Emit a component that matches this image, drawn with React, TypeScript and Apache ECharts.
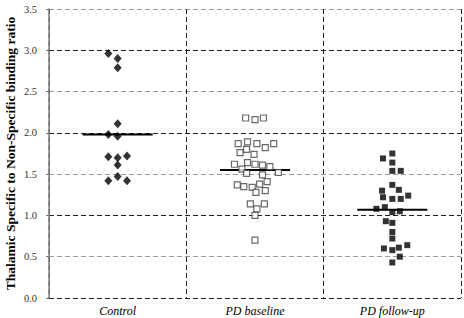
import React, { useEffect, useRef } from "react";
import * as echarts from "echarts";

const categories = ["Control", "PD baseline", "PD follow-up"];
const yTicks = [0, 0.5, 1.0, 1.5, 2.0, 2.5, 3.0, 3.5];

const controlValues = [2.96, 2.9, 2.79, 2.11, 1.98, 1.96, 1.71, 1.7, 1.72, 1.61, 1.47, 1.42, 1.42];
const controlSlots = [-1, 0, 0, 0, -1, 0, -1, 0, 1, 0, 0, -1, 1];

const baselineValues = [
  2.18, 2.16, 2.18, 1.87, 1.89, 1.87, 1.82, 1.87, 1.76, 1.8, 1.74, 1.62, 1.64, 1.62, 1.61, 1.59,
  1.56, 1.51, 1.52, 1.49, 1.37, 1.35, 1.34, 1.38, 1.41, 1.28, 1.3, 1.14, 1.08, 1.14, 1.0, 0.7,
];
const baselineSlots = [
  -1.0, 0, 0.9, -1.8, -0.8, 0.2, 1.1, 2.0, -1.6, -0.9, -0.1, -2.2, -0.8, 0, 0.8, 1.6,
  -1.4, -0.9, 2.5, 0.8, -1.9, -1.2, -0.3, 0.5, 1.3, 0.1, 1.1, -0.5, 0.2, 1.0, 0, 0,
];

const followupValues = [
  1.69, 1.75, 1.64, 1.54, 1.54, 1.37, 1.3, 1.31, 1.22, 1.2, 1.2, 1.24, 1.08, 1.1, 1.04, 1.05,
  0.93, 0.91, 0.8, 0.72, 0.6, 0.58, 0.61, 0.64, 0.5, 0.43,
];
const followupSlots = [
  -1.0, 0, 0, 0, 0.9, 0, -1.1, 0.7, -1.0, 0, 0.9, 1.7, -1.7, -0.8, 0, 0.8,
  -0.7, 0, 0, 0, -0.9, 0, 0.7, 1.6, 0.8, 0,
];

const groupMeans = [1.98, 1.55, 1.07];

const SLOT = 0.068;
const MEAN_HALF = 0.255;

function points(catIndex: number, values: number[], slots: number[]) {
  return values.map((v, i) => [catIndex + 0.5 + slots[i] * SLOT, v]);
}

export default function App() {
  const ref = useRef<HTMLDivElement>(null);
  useEffect(() => {
    document.body.style.margin = "0";
    const chart = echarts.init(ref.current!, null, { renderer: "svg" });
    const serif = "Liberation Serif, Times New Roman, serif";
    const meanSeries = groupMeans.map((m, i) => ({
      type: "line",
      xAxisIndex: 0,
      data: [
        [i + 0.5 - MEAN_HALF, m],
        [i + 0.5 + MEAN_HALF, m],
      ],
      symbol: "none",
      lineStyle: { color: "#000", width: 2 },
      z: 3,
    }));
    chart.setOption({
      animation: false,
      grid: { left: 49, right: 3, top: 9, bottom: 20, containLabel: false, outerBoundsMode: "none" },
      xAxis: [
        {
          type: "value",
          min: 0,
          max: 3,
          interval: 1,
          axisLine: { show: false },
          axisTick: { show: false },
          axisLabel: { show: false },
          splitLine: { show: true, lineStyle: { type: [5, 3], color: "#222", width: 1 } },
        },
        {
          type: "category",
          data: categories,
          position: "bottom",
          axisLine: { show: false },
          axisTick: { show: false },
          splitLine: { show: false },
          axisLabel: {
            fontFamily: serif,
            fontStyle: "italic",
            fontSize: 12,
            color: "#000",
            margin: 7,
          },
        },
      ],
      yAxis: {
        type: "value",
        min: 0,
        max: 3.5,
        interval: 0.5,
        name: "Thalamic Specific to Non-Specific binding ratio",
        nameLocation: "middle",
        nameGap: 32,
        nameMoveOverlap: false,
        nameTextStyle: { fontFamily: serif, fontWeight: "bold", fontSize: 13.5, color: "#000" },
        axisLine: { show: true, lineStyle: { color: "#777", width: 1.5 } },
        axisTick: { show: true, inside: false, length: 3, lineStyle: { color: "#777", width: 1 } },
        axisLabel: {
          fontFamily: serif,
          fontSize: 10.5,
          color: "#333",
          margin: 12,
          formatter: (v: number) => (yTicks.includes(v) ? v.toFixed(1) : ""),
        },
        splitLine: {
          show: true,
          lineStyle: { type: [5, 3], color: ["#222", "#999"], width: 1.2 },
        },
      },
      series: [
        {
          type: "scatter",
          xAxisIndex: 0,
          data: points(0, controlValues, controlSlots),
          symbol: "diamond",
          symbolSize: [8, 9],
          itemStyle: { color: "#000" },
          z: 4,
        },
        {
          type: "scatter",
          xAxisIndex: 0,
          data: points(1, baselineValues, baselineSlots),
          symbol: "rect",
          symbolSize: 6,
          itemStyle: { color: "#fff", borderColor: "#444", borderWidth: 1.2 },
          z: 4,
        },
        {
          type: "scatter",
          xAxisIndex: 0,
          data: points(2, followupValues, followupSlots),
          symbol: "rect",
          symbolSize: 6,
          itemStyle: { color: "#000" },
          z: 4,
        },
        ...meanSeries,
      ],
    });
    return () => chart.dispose();
  }, []);
  return <div ref={ref} style={{ width: 464, height: 318 }} />;
}
